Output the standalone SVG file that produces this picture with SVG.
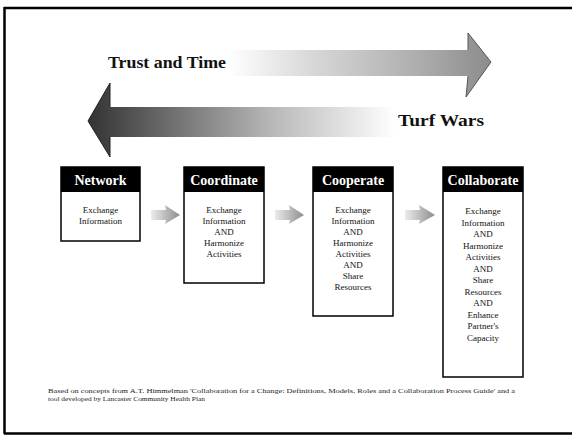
<svg xmlns="http://www.w3.org/2000/svg" width="572" height="435" viewBox="0 0 572 435">
<defs>
<linearGradient id="gTop" x1="228" y1="0" x2="491" y2="0" gradientUnits="userSpaceOnUse">
<stop offset="0" stop-color="#ffffff"/>
<stop offset="0.3" stop-color="#dadada"/>
<stop offset="0.7" stop-color="#b0b0b0"/>
<stop offset="1" stop-color="#8c8c8c"/>
</linearGradient>
<linearGradient id="gBot" x1="88" y1="0" x2="395" y2="0" gradientUnits="userSpaceOnUse">
<stop offset="0" stop-color="#333333"/>
<stop offset="0.25" stop-color="#6a6a6a"/>
<stop offset="0.6" stop-color="#b8b8b8"/>
<stop offset="1" stop-color="#ffffff"/>
</linearGradient>
<linearGradient id="gSmall" x1="0" y1="0" x2="1" y2="0">
<stop offset="0" stop-color="#ececec"/>
<stop offset="1" stop-color="#8c8c8c"/>
</linearGradient>
<style>
.frame{stroke:#000;stroke-width:2.5;fill:none}
.box{fill:#fff;stroke:#000;stroke-width:1.5}
.hdr{fill:#000}
.ht{font-family:"Liberation Serif",serif;font-weight:bold;font-size:14px;fill:#fff;text-anchor:middle}
.bt{font-family:"Liberation Serif",serif;font-size:9px;fill:#111;text-anchor:middle}
.big{font-family:"Liberation Serif",serif;font-weight:bold;font-size:17px;fill:#111}
.fn{font-family:"Liberation Serif",serif;font-size:7px;fill:#222}
.sm{fill:url(#gSmall)}
</style>
</defs>
<g id="frame">
<path class="frame" d="M4,8 H572 M4.5,7 V434 M4,433.5 H572"/>
</g>
<g id="trust-arrow">
<polygon points="228,50 468,50 468,33 491,62 466,97 468,76 228,76" fill="url(#gTop)"/>
<polyline points="468,50 468,33 491,62 466,97 468,76" fill="none" stroke="#555" stroke-width="1"/>
<text class="big" x="108" y="68" textLength="118" lengthAdjust="spacingAndGlyphs">Trust and Time</text>
</g>
<g id="turf-arrow">
<polygon points="395,107 110,107 110,83 88,121 110,157 110,137 395,137" fill="url(#gBot)"/>
<polyline points="110,107 110,83 88,121 110,157 110,137" fill="none" stroke="#222" stroke-width="1"/>
<text class="big" x="398" y="126" textLength="86" lengthAdjust="spacingAndGlyphs">Turf Wars</text>
</g>
<g id="connectors">
<polygon class="sm" points="151,210 166,210 165,205 180,215 165,224 166,220 151,220"/>
<polygon class="sm" points="275,210 290,210 289,205 304,215 289,224 290,220 275,220"/>
<polygon class="sm" points="405,210 420,210 419,205 435,215 419,224 420,220 405,220"/>
</g>
<g id="network">
<rect class="box" x="61" y="167" width="79" height="74"/>
<rect class="hdr" x="61" y="167" width="79" height="25"/>
<text class="ht" x="100.5" y="185">Network</text>
<text class="bt" x="100.5" y="213">Exchange</text>
<text class="bt" x="100.5" y="224">Information</text>
</g>
<g id="coordinate">
<rect class="box" x="184" y="167" width="80" height="116"/>
<rect class="hdr" x="184" y="167" width="80" height="25"/>
<text class="ht" x="224" y="185">Coordinate</text>
<text class="bt" x="224" y="213">Exchange</text>
<text class="bt" x="224" y="224">Information</text>
<text class="bt" x="224" y="235">AND</text>
<text class="bt" x="224" y="246">Harmonize</text>
<text class="bt" x="224" y="257">Activities</text>
</g>
<g id="cooperate">
<rect class="box" x="313" y="167" width="80" height="149"/>
<rect class="hdr" x="313" y="167" width="80" height="25"/>
<text class="ht" x="353" y="185">Cooperate</text>
<text class="bt" x="353" y="213">Exchange</text>
<text class="bt" x="353" y="224">Information</text>
<text class="bt" x="353" y="235">AND</text>
<text class="bt" x="353" y="246">Harmonize</text>
<text class="bt" x="353" y="257">Activities</text>
<text class="bt" x="353" y="268">AND</text>
<text class="bt" x="353" y="279">Share</text>
<text class="bt" x="353" y="290">Resources</text>
</g>
<g id="collaborate">
<rect class="box" x="443" y="167" width="80" height="210"/>
<rect class="hdr" x="443" y="167" width="80" height="25"/>
<text class="ht" x="483" y="185">Collaborate</text>
<text class="bt" x="483" y="214">Exchange</text>
<text class="bt" x="483" y="225.5">Information</text>
<text class="bt" x="483" y="237">AND</text>
<text class="bt" x="483" y="248.5">Harmonize</text>
<text class="bt" x="483" y="260">Activities</text>
<text class="bt" x="483" y="271.5">AND</text>
<text class="bt" x="483" y="283">Share</text>
<text class="bt" x="483" y="294.5">Resources</text>
<text class="bt" x="483" y="306">AND</text>
<text class="bt" x="483" y="317.5">Enhance</text>
<text class="bt" x="483" y="329">Partner's</text>
<text class="bt" x="483" y="340.5">Capacity</text>
</g>
<g id="footnote">
<text class="fn" x="48" y="393" textLength="467" lengthAdjust="spacingAndGlyphs">Based on concepts from A.T. Himmelman 'Collaboration for a Change: Definitions, Models, Roles and a Collaboration Process Guide' and a</text>
<text class="fn" x="48" y="401" textLength="157" lengthAdjust="spacingAndGlyphs">tool developed by Lancaster Community Health Plan</text>
</g>
</svg>
